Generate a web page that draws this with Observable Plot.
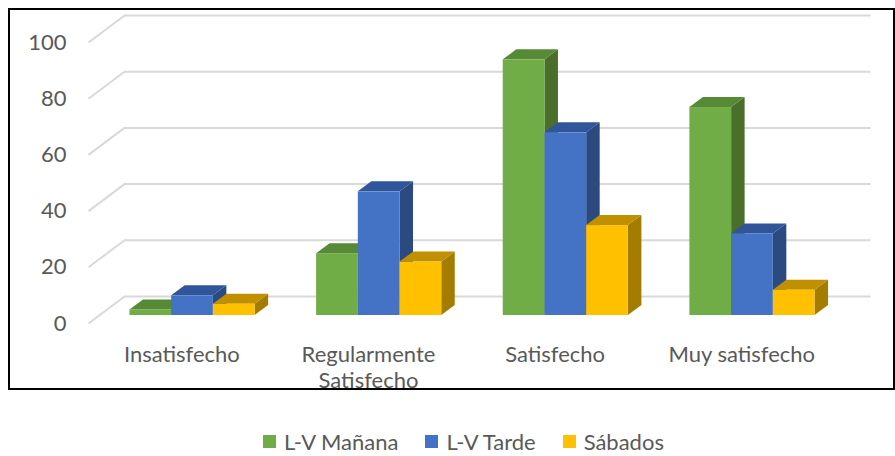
<!DOCTYPE html>
<html>
<head>
<meta charset="utf-8">
<script src="https://cdn.jsdelivr.net/npm/d3@7"></script>
<script src="https://cdn.jsdelivr.net/npm/@observablehq/plot@0.6"></script>
<style>
  html, body { margin: 0; padding: 0; background: #fff; }
  #wrap { position: relative; width: 895px; height: 456px; overflow: hidden; font-family: Lato, "Open Sans", sans-serif; }
  #clip { position: absolute; left: 0; top: 0; width: 895px; height: 389px; overflow: hidden; }
  #border { position: absolute; left: 8px; top: 8px; width: 887px; height: 382px; box-sizing: border-box; border: 2px solid #000; pointer-events: none; }
  #legend { position: absolute; top: 428px; left: 263px; display: flex; align-items: center; font-size: 22px; color: #595959; white-space: nowrap; }
  #legend .item { display: flex; align-items: center; margin-right: 27px; }
  #legend .sw { width: 13px; height: 13px; margin-right: 8px; }
</style>
</head>
<body>
<div id="wrap">
  <div id="clip"></div>
  <div id="border"></div>
  <div id="legend"></div>
</div>
<script>
// ---- data ----
const categories = ["Insatisfecho", "Regularmente Satisfecho", "Satisfecho", "Muy satisfecho"];
const seriesNames = ["L-V Mañana", "L-V Tarde", "Sábados"];
const manana = [2, 22, 91, 74];
const tarde = [7, 44, 65, 29];
const sabados = [4, 19, 32, 9];
const yTicks = [0, 20, 40, 60, 80, 100];

// ---- styles ----
const frontColors = ["#70AD47", "#4472C4", "#FFC000"];
const topColors = ["#578A36", "#30559A", "#C09000"];
const sideColors = ["#4A6F2B", "#2B4A80", "#A47C00"];
const textColor = "#595959";
const gridColor = "#D9D9D9";

const W = 895, H = 400;
const mL = 98.7, mR = 49.7, mT = 34, mB = 85;
const pxX = (W - mL - mR) / 4;      // px per x unit
const pxY = (H - mT - mB) / 100;    // px per y unit
const barW = 0.2235;                // bar width in x units
// depth offsets (pixels) converted to data units
const bdx = 13.5 / pxX, bdy = 10 / pxY;         // bar depth
const backDx = 25.3 / pxX, backDy = 19 / pxY;   // back wall
const frontDx = -10.7 / pxX, frontDy = -8 / pxY; // front plane

const valuesBySeries = [manana, tarde, sabados];
const bars = [];
valuesBySeries.forEach((vals, s) => {
  vals.forEach((v, i) => {
    const x0 = i + 0.5 - 1.5 * barW + s * barW;
    bars.push({cat: categories[i], s, v, x0, x1: x0 + barW, id: s + "-" + i});
  });
});

const marks = [];
// back wall gridlines
marks.push(Plot.ruleY(yTicks, {y: d => d + backDy, x1: 0 + backDx, x2: 4 + backDx, stroke: gridColor, strokeWidth: 2}));
// side-wall diagonals
marks.push(Plot.link(yTicks, {
  x1: frontDx, y1: d => d + frontDy,
  x2: backDx, y2: d => d + backDy,
  stroke: gridColor, strokeWidth: 2
}));

for (let s = 0; s < seriesNames.length; s++) {
  const bs = bars.filter(b => b.s === s);
  const side = bs.flatMap(b => [
    {id: b.id, x: b.x1, y1: 0, y2: b.v},
    {id: b.id, x: b.x1 + bdx, y1: bdy, y2: b.v + bdy}
  ]);
  const top = bs.flatMap(b => [
    {id: b.id, y: b.v, x1: b.x0, x2: b.x1},
    {id: b.id, y: b.v + bdy, x1: b.x0 + bdx, x2: b.x1 + bdx}
  ]);
  marks.push(Plot.areaY(side, {x: "x", y1: "y1", y2: "y2", z: "id", fill: sideColors[s]}));
  marks.push(Plot.areaX(top, {y: "y", x1: "x1", x2: "x2", z: "id", fill: topColors[s]}));
  marks.push(Plot.rectY(bs, {x1: "x0", x2: "x1", y1: 0, y2: "v", fill: frontColors[s], insetLeft: 0, insetRight: 0}));
}

// y tick labels (front plane)
marks.push(Plot.text(yTicks, {
  x: 0, y: d => d, text: d => String(d),
  dx: -32.7, dy: 8, textAnchor: "end",
  fontSize: 22, fill: textColor
}));
// category labels
marks.push(Plot.text(categories, {
  x: (d, i) => i + 0.5, y: 0, text: d => d,
  dx: -10.7, dy: 27, lineAnchor: "top", lineWidth: 8, lineHeight: 1.22,
  fontSize: 22, fill: textColor
}));

const chart = Plot.plot({
  width: W, height: H,
  marginLeft: mL, marginRight: mR, marginTop: mT, marginBottom: mB,
  x: {type: "linear", domain: [0, 4], axis: null},
  y: {type: "linear", domain: [0, 100], axis: null},
  style: {fontFamily: "Lato, 'Open Sans', sans-serif", background: "transparent", overflow: "visible"},
  marks
});
document.getElementById("clip").appendChild(chart);

// legend
const legend = document.getElementById("legend");
seriesNames.forEach((name, s) => {
  const item = document.createElement("div");
  item.className = "item";
  const sw = document.createElement("span");
  sw.className = "sw";
  sw.style.background = frontColors[s];
  const t = document.createElement("span");
  t.textContent = name;
  item.appendChild(sw); item.appendChild(t);
  legend.appendChild(item);
});
</script>
</body>
</html>
